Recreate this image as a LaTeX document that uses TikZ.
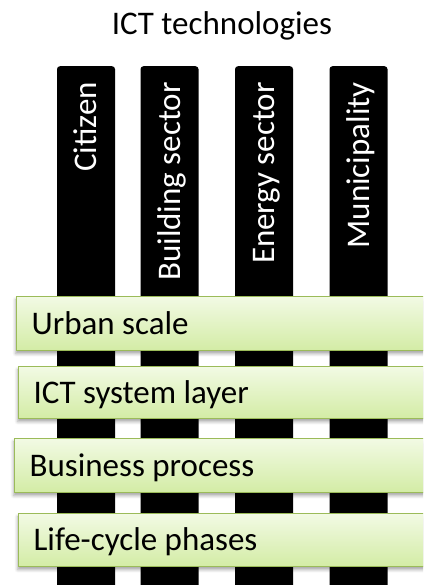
\documentclass[tikz,border=0pt]{standalone}
\usepackage{fontspec}
\setmainfont{Carlito}
\usetikzlibrary{shadows.blur}
\definecolor{lborder}{HTML}{9BBB59}
\definecolor{ltop}{HTML}{F2FAE4}
\definecolor{lbot}{HTML}{D3ECA5}
\tikzset{
  bigfont/.style={font=\fontsize{33}{40}\selectfont},
  bar/.style={fill=black, draw=none, rounded corners=3pt, minimum width=58pt, minimum height=600pt, anchor=north, inner sep=0pt},
  bartext/.style={bigfont, text=white, rotate=90, anchor=base east, inner sep=0pt},
  layer/.style={bigfont, draw=lborder, line width=1.2pt, top color=ltop, bottom color=lbot,
    anchor=north west, minimum width=430pt, text width=400pt, align=flush left, inner xsep=13pt, inner ysep=0pt,
    text height=21pt, text depth=0pt,
    blur shadow={shadow xshift=-1pt, shadow yshift=-3pt, shadow blur radius=3pt, shadow opacity=35}},
}
\begin{document}
\begin{tikzpicture}[x=1pt,y=-1pt]
\useasboundingbox (0,0) rectangle (423,585);
\clip (0,0) rectangle (423,585);
\node[bigfont, anchor=base, inner sep=0pt] (title) at (222,35) {ICT technologies};
\node[bar] (b1) at (86,66) {};
\node[bar] (b2) at (169.5,66) {};
\node[bar] (b3) at (264,66) {};
\node[bar] (b4) at (358.5,66) {};
\node[bartext] (t1) at (96.5,82) {Citizen};
\node[bartext] (t2) at (180,82) {Building sector};
\node[bartext] (t3) at (274.5,82) {Energy sector};
\node[bartext] (t4) at (369,82) {Municipality};
\node[layer, minimum height=54pt] (l1) at (16,296) {Urban scale};
\node[layer, minimum height=52pt] (l2) at (18,366) {ICT system layer};
\node[layer, minimum height=54pt] (l3) at (14,438) {Business process};
\node[layer, minimum height=53pt] (l4) at (18,513) {Life-cycle phases};
\end{tikzpicture}
\end{document}
